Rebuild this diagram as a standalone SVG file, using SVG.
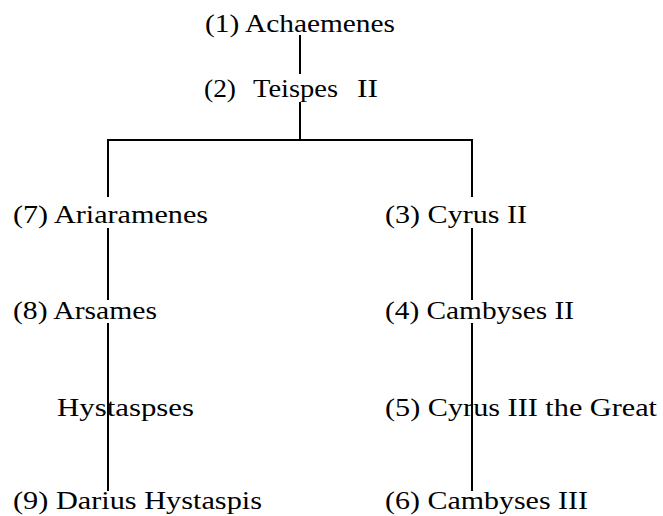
<svg xmlns="http://www.w3.org/2000/svg" width="663" height="516" viewBox="0 0 663 516">
<style>
text{font-family:"Liberation Serif","Times New Roman",serif;font-size:25px;fill:#000}
.c line,.c polyline{stroke:#000;stroke-width:2;fill:none}
</style>
<rect width="663" height="516" fill="#fff"/>
<g class="c" id="connectors">
<line x1="300" y1="35" x2="300" y2="74"/>
<polyline points="108,197 108,140 472,140 472,197"/>
<line x1="300" y1="102" x2="300" y2="140"/>
<line x1="108" y1="228" x2="108" y2="300"/>
<line x1="108" y1="323" x2="108" y2="491"/>
<line x1="472" y1="228" x2="472" y2="300"/>
<line x1="472" y1="323" x2="472" y2="491"/>
</g>
<g id="n1"><text x="205" y="32" textLength="190" lengthAdjust="spacingAndGlyphs">(1) Achaemenes</text></g>
<g id="n2"><text y="97"><tspan x="204" textLength="32" lengthAdjust="spacingAndGlyphs">(2)</tspan> <tspan x="253" textLength="85" lengthAdjust="spacingAndGlyphs">Teispes</tspan> <tspan x="357" textLength="21" lengthAdjust="spacingAndGlyphs">II</tspan></text></g>
<g id="n7"><text x="13" y="223" textLength="195" lengthAdjust="spacingAndGlyphs">(7) Ariaramenes</text></g>
<g id="n8"><text x="13" y="319" textLength="144" lengthAdjust="spacingAndGlyphs">(8) Arsames</text></g>
<g id="nH"><text x="57" y="416" textLength="137" lengthAdjust="spacingAndGlyphs">Hystaspses</text></g>
<g id="n9"><text x="13" y="509" textLength="249" lengthAdjust="spacingAndGlyphs">(9) Darius Hystaspis</text></g>
<g id="n3"><text x="385" y="223" textLength="142" lengthAdjust="spacingAndGlyphs">(3) Cyrus II</text></g>
<g id="n4"><text x="385" y="319" textLength="189" lengthAdjust="spacingAndGlyphs">(4) Cambyses II</text></g>
<g id="n5"><text x="385" y="416" textLength="272" lengthAdjust="spacingAndGlyphs">(5) Cyrus III the Great</text></g>
<g id="n6"><text x="385" y="509" textLength="203" lengthAdjust="spacingAndGlyphs">(6) Cambyses III</text></g>
</svg>
